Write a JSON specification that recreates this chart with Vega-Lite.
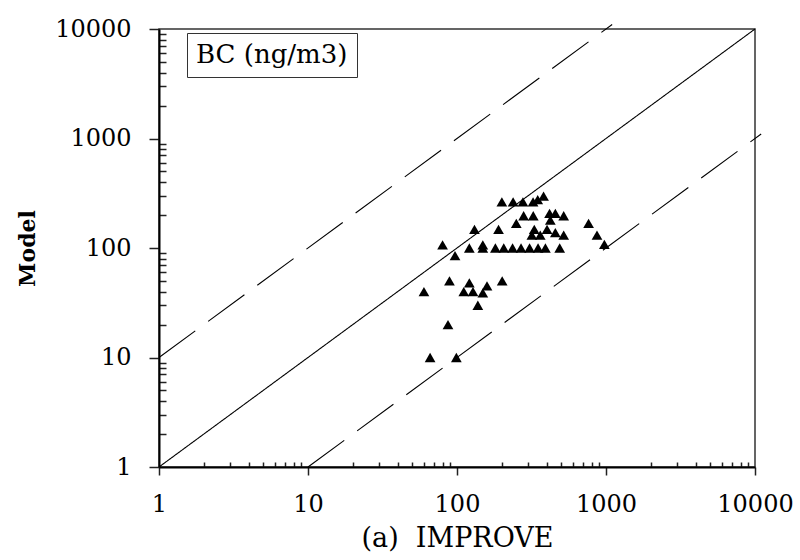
{
  "$schema": "https://vega.github.io/schema/vega-lite/v6.json",
  "autosize": "none",
  "width": 596,
  "height": 438,
  "padding": {"left": 159, "top": 29, "right": 45, "bottom": 93},
  "background": "white",
  "config": {
    "view": {"stroke": "#333", "strokeWidth": 1.5, "fill": "white"},
    "font": "DejaVu Serif",
    "axis": {
      "domainColor": "black", "domainWidth": 2,
      "tickColor": "#222", "tickWidth": 1.5,
      "labelFont": "DejaVu Serif", "labelFontSize": 24, "labelColor": "black",
      "titleFont": "DejaVu Serif", "titleColor": "black", "titleFontWeight": "normal",
      "grid": false, "labelOverlap": false, "labelFlush": false
    }
  },
  "datasets": {
    "points": [
      {"improve": 60, "model": 40, "species": "BC (ng/m3)"},
      {"improve": 89, "model": 50, "species": "BC (ng/m3)"},
      {"improve": 87, "model": 20, "species": "BC (ng/m3)"},
      {"improve": 66, "model": 10, "species": "BC (ng/m3)"},
      {"improve": 99, "model": 10, "species": "BC (ng/m3)"},
      {"improve": 121, "model": 48, "species": "BC (ng/m3)"},
      {"improve": 111, "model": 40, "species": "BC (ng/m3)"},
      {"improve": 128, "model": 40, "species": "BC (ng/m3)"},
      {"improve": 149, "model": 39, "species": "BC (ng/m3)"},
      {"improve": 159, "model": 45, "species": "BC (ng/m3)"},
      {"improve": 138, "model": 30, "species": "BC (ng/m3)"},
      {"improve": 201, "model": 50, "species": "BC (ng/m3)"},
      {"improve": 80, "model": 107, "species": "BC (ng/m3)"},
      {"improve": 97, "model": 85, "species": "BC (ng/m3)"},
      {"improve": 121, "model": 100, "species": "BC (ng/m3)"},
      {"improve": 149, "model": 107, "species": "BC (ng/m3)"},
      {"improve": 149, "model": 100, "species": "BC (ng/m3)"},
      {"improve": 181, "model": 100, "species": "BC (ng/m3)"},
      {"improve": 206, "model": 100, "species": "BC (ng/m3)"},
      {"improve": 236, "model": 100, "species": "BC (ng/m3)"},
      {"improve": 269, "model": 100, "species": "BC (ng/m3)"},
      {"improve": 307, "model": 100, "species": "BC (ng/m3)"},
      {"improve": 350, "model": 100, "species": "BC (ng/m3)"},
      {"improve": 392, "model": 100, "species": "BC (ng/m3)"},
      {"improve": 489, "model": 100, "species": "BC (ng/m3)"},
      {"improve": 131, "model": 148, "species": "BC (ng/m3)"},
      {"improve": 190, "model": 148, "species": "BC (ng/m3)"},
      {"improve": 250, "model": 168, "species": "BC (ng/m3)"},
      {"improve": 280, "model": 197, "species": "BC (ng/m3)"},
      {"improve": 325, "model": 197, "species": "BC (ng/m3)"},
      {"improve": 330, "model": 148, "species": "BC (ng/m3)"},
      {"improve": 318, "model": 131, "species": "BC (ng/m3)"},
      {"improve": 362, "model": 131, "species": "BC (ng/m3)"},
      {"improve": 402, "model": 148, "species": "BC (ng/m3)"},
      {"improve": 418, "model": 207, "species": "BC (ng/m3)"},
      {"improve": 423, "model": 180, "species": "BC (ng/m3)"},
      {"improve": 457, "model": 207, "species": "BC (ng/m3)"},
      {"improve": 520, "model": 197, "species": "BC (ng/m3)"},
      {"improve": 457, "model": 138, "species": "BC (ng/m3)"},
      {"improve": 520, "model": 131, "species": "BC (ng/m3)"},
      {"improve": 764, "model": 168, "species": "BC (ng/m3)"},
      {"improve": 870, "model": 131, "species": "BC (ng/m3)"},
      {"improve": 975, "model": 108, "species": "BC (ng/m3)"},
      {"improve": 200, "model": 264, "species": "BC (ng/m3)"},
      {"improve": 238, "model": 264, "species": "BC (ng/m3)"},
      {"improve": 277, "model": 264, "species": "BC (ng/m3)"},
      {"improve": 324, "model": 264, "species": "BC (ng/m3)"},
      {"improve": 348, "model": 277, "species": "BC (ng/m3)"},
      {"improve": 381, "model": 298, "species": "BC (ng/m3)"}
    ],
    "lines": [
      {"line": "1:1", "style": "solid", "improve": 1, "model": 1},
      {"line": "1:1", "style": "solid", "improve": 10000, "model": 10000},
      {"line": "10:1", "style": "dashed", "improve": 1, "model": 10},
      {"line": "10:1", "style": "dashed", "improve": 1100, "model": 11000},
      {"line": "1:10", "style": "dashed", "improve": 10, "model": 1},
      {"line": "1:10", "style": "dashed", "improve": 11000, "model": 1100}
    ]
  },
  "encoding": {
    "x": {
      "field": "improve", "type": "quantitative",
      "scale": {"type": "log", "domain": [1, 10000], "nice": false},
      "axis": {
        "title": "(a)\u00a0 IMPROVE", "titleFontSize": 27, "titlePadding": 9,
        "values": [1,2,3,4,5,6,7,8,9,10,20,30,40,50,60,70,80,90,100,200,300,400,500,600,700,800,900,1000,2000,3000,4000,5000,6000,7000,8000,9000,10000],
        "labelExpr": "indexof([1,10,100,1000,10000], datum.value) >= 0 ? format(datum.value, 'd') : ''",
        "tickSize": {"condition": {"test": "indexof([1,10,100,1000,10000], datum.value) >= 0", "value": 8}, "value": -5},
        "labelPadding": 17
      }
    },
    "y": {
      "field": "model", "type": "quantitative",
      "scale": {"type": "log", "domain": [1, 10000], "nice": false},
      "axis": {
        "title": "Model", "titleFontSize": 22, "titleFontWeight": "bold", "titlePadding": 15,
        "values": [1,2,3,4,5,6,7,8,9,10,20,30,40,50,60,70,80,90,100,200,300,400,500,600,700,800,900,1000,2000,3000,4000,5000,6000,7000,8000,9000,10000],
        "labelExpr": "indexof([1,10,100,1000,10000], datum.value) >= 0 ? format(datum.value, 'd') : ''",
        "tickSize": {"condition": {"test": "indexof([1,10,100,1000,10000], datum.value) >= 0", "value": 10}, "value": -7},
        "labelPadding": 18
      }
    }
  },
  "layer": [
    {
      "data": {"name": "lines"},
      "mark": {"type": "line", "color": "black", "strokeWidth": 1.1},
      "encoding": {
        "detail": {"field": "line"},
        "strokeDash": {"field": "style", "type": "nominal", "scale": {"domain": ["solid", "dashed"], "range": [[1, 0], [45, 16]]}, "legend": null}
      }
    },
    {
      "data": {"name": "points"},
      "mark": {"type": "point", "filled": true, "color": "black", "opacity": 1, "size": 115},
      "encoding": {
        "shape": {
          "field": "species", "type": "nominal",
          "scale": {"range": ["triangle-up"]},
          "legend": {
            "title": null, "orient": "none", "legendX": 28, "legendY": 4,
            "strokeColor": "#333", "fillColor": "white", "padding": 9,
            "symbolSize": 0, "symbolOpacity": 0, "symbolStrokeWidth": 0, "labelOffset": -26,
            "labelFont": "DejaVu Serif", "labelFontSize": 26, "labelColor": "black"
          }
        }
      }
    }
  ]
}
